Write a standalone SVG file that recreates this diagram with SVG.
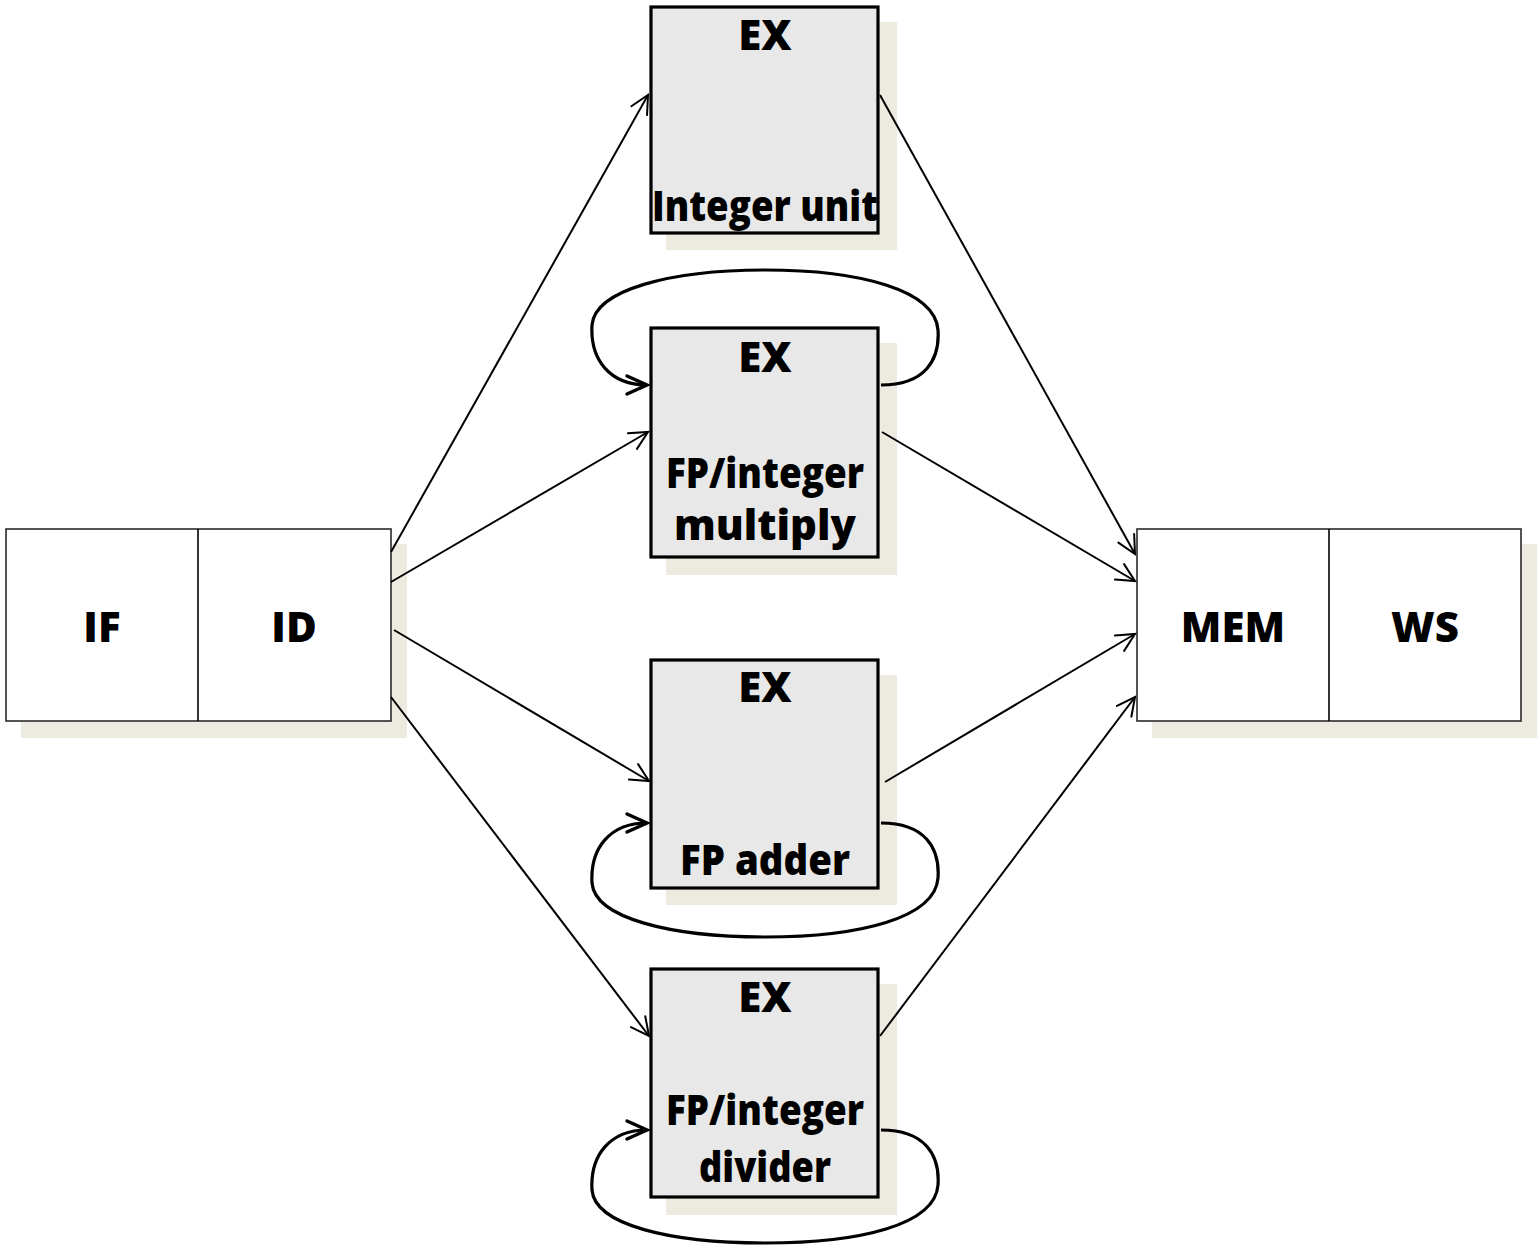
<svg xmlns="http://www.w3.org/2000/svg" width="1537" height="1246" viewBox="0 0 1537 1246">
  <style>
    .shadow { fill: #EDEBE0; }
    .stage { fill: #FFFFFF; stroke: #2A2A2A; stroke-width: 1.6; }
    .ex { fill: #E8E8E8; stroke: #000000; stroke-width: 3.2; }
    .lbl { font-family: "Open Sans", "DejaVu Sans", sans-serif; font-weight: 800; font-size: 42px; fill: #000000; text-anchor: middle; }
    .wire { fill: none; stroke: #000000; stroke-width: 2; marker-end: url(#open); }
    .loop { fill: none; stroke: #000000; stroke-width: 3.2; marker-end: url(#openBold); }
  </style>
  <defs>
    <marker id="open" markerUnits="userSpaceOnUse" orient="auto" refX="0" refY="0" markerWidth="30" markerHeight="30" overflow="visible">
      <path d="M -18 -9 L 0 0 L -18 9" fill="none" stroke="#000000" stroke-width="2" stroke-linecap="round" stroke-linejoin="miter"/>
    </marker>
    <marker id="openBold" markerUnits="userSpaceOnUse" orient="auto" refX="0" refY="0" markerWidth="30" markerHeight="30" overflow="visible">
      <path d="M -20 -9 L 0 0 L -20 9" fill="none" stroke="#000000" stroke-width="3.4" stroke-linecap="round" stroke-linejoin="miter"/>
    </marker>
  </defs>

  <!-- Front-end stages -->
  <g id="if-id">
    <rect class="shadow" x="21" y="544" width="386" height="194"/>
    <rect class="stage" x="6" y="529" width="385" height="192"/>
    <line x1="198" y1="529" x2="198" y2="721" stroke="#000000" stroke-width="1.6"/>
    <text class="lbl" x="102" y="642">IF</text>
    <text class="lbl" x="294" y="642">ID</text>
  </g>

  <!-- Back-end stages -->
  <g id="mem-ws">
    <rect class="shadow" x="1152" y="544" width="385" height="194"/>
    <rect class="stage" x="1137" y="529" width="384" height="192"/>
    <line x1="1329" y1="529" x2="1329" y2="721" stroke="#000000" stroke-width="1.6"/>
    <text class="lbl" x="1233" y="642">MEM</text>
    <text class="lbl" x="1425" y="642">WS</text>
  </g>

  <!-- Execution units -->
  <g id="ex-integer">
    <rect class="shadow" x="666" y="22" width="231" height="228"/>
    <rect class="ex" x="651" y="7" width="227" height="226"/>
    <text class="lbl" x="765" y="50">EX</text>
    <text class="lbl" x="765" y="221" textLength="226" lengthAdjust="spacingAndGlyphs">Integer unit</text>
  </g>

  <g id="ex-multiply">
    <rect class="shadow" x="666" y="343" width="231" height="232"/>
    <rect class="ex" x="651" y="328" width="227" height="229"/>
    <text class="lbl" x="765" y="372">EX</text>
    <text class="lbl" x="765" y="488" textLength="198" lengthAdjust="spacingAndGlyphs">FP/integer</text>
    <text class="lbl" x="765" y="540" textLength="182" lengthAdjust="spacingAndGlyphs">multiply</text>
  </g>

  <g id="ex-adder">
    <rect class="shadow" x="666" y="675" width="231" height="230"/>
    <rect class="ex" x="651" y="660" width="227" height="228"/>
    <text class="lbl" x="765" y="702">EX</text>
    <text class="lbl" x="765" y="875" textLength="170" lengthAdjust="spacingAndGlyphs">FP adder</text>
  </g>

  <g id="ex-divider">
    <rect class="shadow" x="666" y="984" width="231" height="231"/>
    <rect class="ex" x="651" y="969" width="227" height="228"/>
    <text class="lbl" x="765" y="1012">EX</text>
    <text class="lbl" x="765" y="1125" textLength="198" lengthAdjust="spacingAndGlyphs">FP/integer</text>
    <text class="lbl" x="765" y="1182" textLength="132" lengthAdjust="spacingAndGlyphs">divider</text>
  </g>

  <!-- Connectors -->
  <g id="connectors">
    <!-- ID to execution units -->
    <path class="wire" d="M 391 552 L 648 95"/>
    <path class="wire" d="M 391 582 L 648 432"/>
    <path class="wire" d="M 394 630 L 649 781"/>
    <path class="wire" d="M 391 697 L 649 1036"/>
    <!-- execution units to MEM -->
    <path class="wire" d="M 880 95 L 1135 554"/>
    <path class="wire" d="M 882 432 L 1135 581"/>
    <path class="wire" d="M 885 782 L 1135 634"/>
    <path class="wire" d="M 880 1036 L 1135 697"/>
    <!-- pipelined / iterative feedback loops -->
    <path class="loop" d="M 881 385 C 925 385, 940 360, 938 330 C 935 290, 860 270, 765 270 C 670 270, 595 290, 592 325 C 590 360, 610 385, 647 385"/>
    <path class="loop" d="M 881 823 C 925 823, 940 848, 938 878 C 935 918, 860 937, 765 937 C 670 937, 595 918, 592 883 C 590 848, 610 823, 647 823"/>
    <path class="loop" d="M 881 1130 C 925 1130, 940 1155, 938 1185 C 935 1225, 860 1243, 765 1243 C 670 1243, 595 1225, 592 1190 C 590 1155, 610 1130, 647 1130"/>
  </g>
</svg>
